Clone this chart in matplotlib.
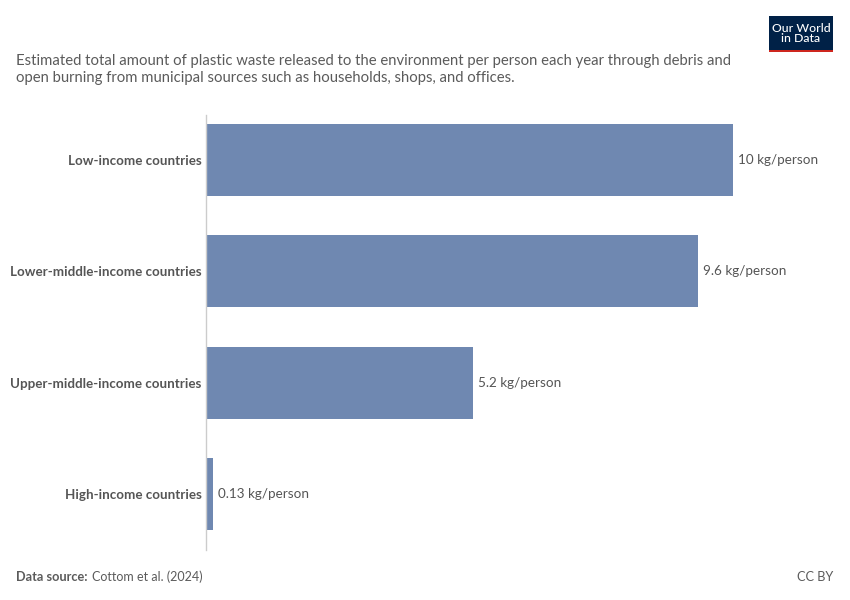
import matplotlib.pyplot as plt
from matplotlib.patches import Rectangle

plt.rcParams['font.family'] = ['Lato', 'DejaVu Sans']

categories = ["Low-income countries", "Lower-middle-income countries",
              "Upper-middle-income countries", "High-income countries"]
values = [10.28, 9.6, 5.2, 0.13]
value_labels = ["10 kg/person", "9.6 kg/person", "5.2 kg/person", "0.13 kg/person"]

subtitle = ("Estimated total amount of plastic waste released to the environment per person each year through debris and\n"
            "open burning from municipal sources such as households, shops, and offices.")

W, H = 850, 600
fig = plt.figure(figsize=(8.5, 6), dpi=100)
fig.patch.set_facecolor('white')

# axes placed in pixel terms
left, right, top, bottom = 206, 733, 115, 550
ax = fig.add_axes([left / W, 1 - bottom / H, (right - left) / W, (bottom - top) / H])

ypos = list(range(len(categories)))
ax.barh(ypos, values, height=0.645, color='#6f88b1', zorder=2)
ax.set_xlim(0, values[0])
ax.set_ylim(3.5, -0.4)

for y, v, lab in zip(ypos, values, value_labels):
    ax.text(v + 0.1, y, lab, va='center', ha='left', fontsize=9.7, color='#555555', clip_on=False)

ax.set_yticks(ypos)
ax.set_yticklabels(categories, fontsize=9.6, fontweight='bold', color='#555555')
ax.tick_params(axis='y', length=0, pad=3)
ax.set_xticks([])
for s in ['top', 'right', 'bottom']:
    ax.spines[s].set_visible(False)
ax.spines['left'].set_color('#cccccc')
ax.spines['left'].set_linewidth(1)

# subtitle
fig.text(16 / W, 1 - 54 / H, subtitle, ha='left', va='top', fontsize=10.7,
         color='#5b5b5b', linespacing=1.25)

# footer
fig.text(16 / W, 1 - 577 / H, "Data source:", ha='left', va='center', fontsize=9.2,
         fontweight='bold', color='#5b5b5b')
fig.text(92 / W, 1 - 577 / H, "Cottom et al. (2024)", ha='left', va='center', fontsize=9.0,
         color='#5b5b5b')
fig.text(833 / W, 1 - 577 / H, "CC BY", ha='right', va='center', fontsize=9.2, color='#5b5b5b')

# logo
fig.patches.append(Rectangle((769 / W, 1 - 52 / H), 64 / W, 36 / H, transform=fig.transFigure,
                             facecolor='#002147', edgecolor='none'))
fig.patches.append(Rectangle((769 / W, 1 - 52 / H), 64 / W, 2.5 / H, transform=fig.transFigure,
                             facecolor='#ce261e', edgecolor='none'))
fig.text(801 / W, 1 - 33.5 / H, "Our World\nin Data", ha='center', va='center', fontsize=8.8,
         fontweight='medium', color='white', linespacing=1.0)

fig.savefig('out.png', dpi=100)
